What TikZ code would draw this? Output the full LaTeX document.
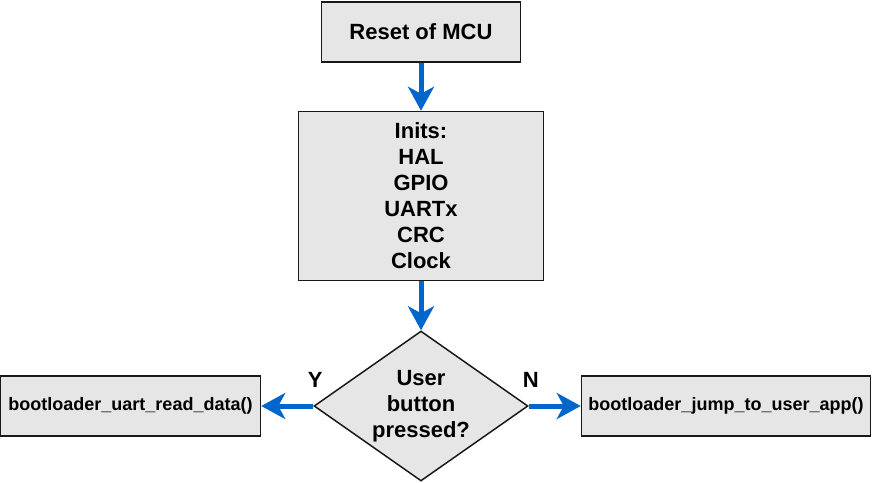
\documentclass[tikz,border=0pt]{standalone}
\usepackage{fontspec}
\setmainfont{Liberation Sans}
\usepackage{xcolor}
\usepackage{tikz}
\usetikzlibrary{arrows.meta,positioning,shapes.geometric}
\definecolor{boxgray}{HTML}{E6E6E6}
\definecolor{flowblue}{HTML}{0066CC}

\begin{document}
\begin{tikzpicture}[
    x=1pt, y=1pt,
    node distance=50pt,
    procbox/.style={draw=black!90, line width=1.5pt, fill=boxgray, minimum height=60pt, align=center, font=\fontsize{22}{26}\selectfont\bfseries},
    callbox/.style={procbox, font=\fontsize{18}{22}\selectfont\bfseries},
    decision/.style={diamond, aspect=1.43, draw=black!90, line width=1.5pt, fill=boxgray, minimum width=214pt, minimum height=150pt, inner sep=0pt, align=center, font=\fontsize{22}{26}\selectfont\bfseries},
    flag/.style={inner sep=0pt, font=\fontsize{22}{26}\selectfont\bfseries},
    arrow/.style={-{Stealth[length=24pt, width=26pt, inset=7pt]}, line width=5pt, flowblue}
  ]
    \useasboundingbox (0,0) rectangle (872,-482);
    \node[procbox, minimum width=199pt] (reset) at (421,-32) {Reset of MCU};
    \node[procbox, minimum width=245pt, minimum height=169pt, below=48pt of reset] (inits) {Inits:\\HAL\\GPIO\\UARTx\\CRC\\Clock};
    \node[decision, below=49pt of inits] (button) {User\\button\\pressed?};
    \node[callbox, minimum width=260pt, left=52pt of button] (readdata) {bootloader\_uart\_read\_data()};
    \node[callbox, minimum width=289pt, right=52pt of button] (jumpapp) {bootloader\_jump\_to\_user\_app()};
    \node[flag] (yes) at ([xshift=2pt, yshift=26pt]button.west) {Y};
    \node[flag] (no) at ([xshift=2pt, yshift=26pt]button.east) {N};
    \draw[arrow] (reset) -- (inits);
    \draw[arrow] (inits) -- (button);
    \draw[arrow] (button) -- (readdata);
    \draw[arrow] (button) -- (jumpapp);
  \end{tikzpicture}
\end{document}
